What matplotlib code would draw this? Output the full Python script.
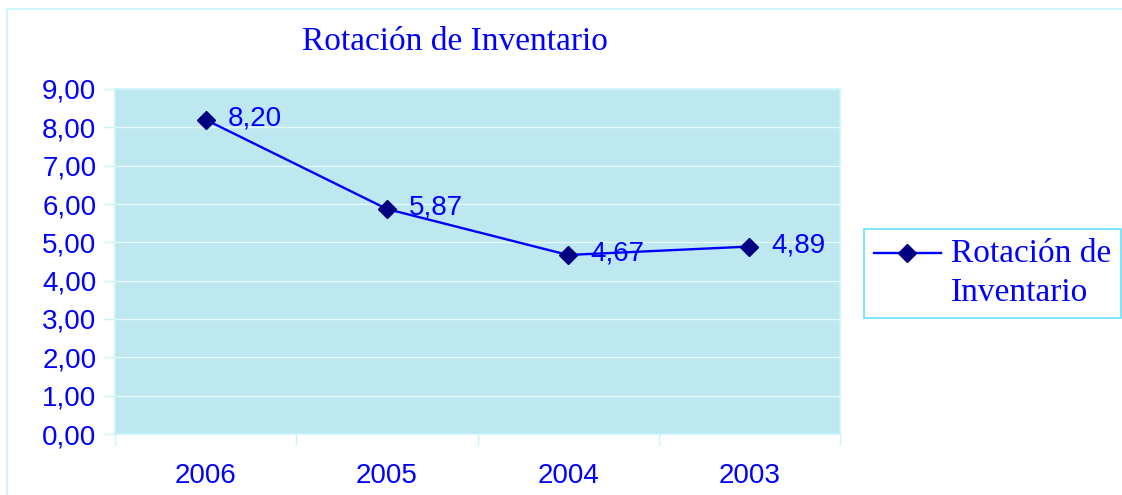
import matplotlib
matplotlib.use("Agg")
import matplotlib.pyplot as plt
from matplotlib.patches import Rectangle
from matplotlib.legend_handler import HandlerLine2D
from matplotlib.transforms import Affine2D

years = ["2006", "2005", "2004", "2003"]
rotacion = [8.20, 5.87, 4.67, 4.89]
y_ticks = [0, 1, 2, 3, 4, 5, 6, 7, 8, 9]
title = "Rotación de Inventario"
series_label = "Rotación de\nInventario"

W, H = 1122, 495
fig = plt.figure(figsize=(W / 100, H / 100), dpi=100)
fig.patch.set_facecolor("white")

# outer chart border (right/bottom edges fall outside the image)
fig.patches.append(Rectangle((7 / W, -0.05), 1.1, 1.05 - 9 / H, transform=fig.transFigure,
                             fill=False, edgecolor="#c8f4fc", linewidth=1.2))

ax = fig.add_axes([115 / W, 1 - 434 / H, (840 - 115) / W, (434 - 89) / H])
ax.set_facecolor("#bee8ef")

x = list(range(len(years)))
ax.plot(x, rotacion, color="#0000ff", linewidth=1.7, marker="D", markersize=9,
        markerfacecolor="#000080", markeredgecolor="#000080", label=series_label, zorder=3)

for xi, v in zip(x, rotacion):
    ax.annotate(f"{v:.2f}".replace(".", ","), (xi, v), xytext=(16, 1), textcoords="offset points",
                ha="left", va="center", fontsize=20, color="#0000ff", family="Liberation Sans", zorder=4)

ax.set_xlim(-0.5, len(years) - 0.5)
ax.set_ylim(0, 9)
ax.set_yticks(y_ticks)
ax.set_yticklabels([f"{v:.2f}".replace(".", ",") for v in y_ticks])
ax.set_xticks(x)
ax.set_xticklabels(years)
ax.set_xticks([i - 0.5 for i in range(len(years) + 1)], minor=True)
ax.tick_params(axis="x", which="major", length=0, pad=21, labelsize=20, labelcolor="#0000ff")
ax.tick_params(axis="x", which="minor", length=8, color="#c8f4fc", width=1)
ax.tick_params(axis="y", length=8, color="#c8f4fc", width=1, pad=5.5, labelsize=20, labelcolor="#0000ff")
for lab in ax.get_xticklabels() + ax.get_yticklabels():
    lab.set_family("Liberation Sans")

ax.grid(axis="y", color="#e4fafd", linewidth=1)
ax.set_axisbelow(True)
for s in ax.spines.values():
    s.set_color("#c8f4fc")
    s.set_linewidth(1.2)

fig.text(455 / W, 1 - 42 / H, title, ha="center", va="center", fontsize=24,
         color="#0000ff", family="Liberation Serif")


class HandlerTop(HandlerLine2D):
    def create_artists(self, legend, orig_handle, xdescent, ydescent, width, height, fontsize, trans):
        trans = Affine2D().translate(0, 15) + trans
        return super().create_artists(legend, orig_handle, xdescent, ydescent, width, height, fontsize, trans)


leg = fig.legend(handles=ax.get_lines(), labels=[series_label], loc="upper left",
                 bbox_to_anchor=(864 / W, 1 - 229 / H), frameon=True, fancybox=False,
                 prop={"family": "Liberation Serif", "size": 24}, labelcolor="#0000ff",
                 handlelength=2.0, handletextpad=0.3, borderpad=0.3, borderaxespad=0,
                 handler_map={matplotlib.lines.Line2D: HandlerTop()})
for t in leg.get_texts():
    t.set_linespacing(1.35)
leg.get_frame().set_edgecolor("#40d8f8")
leg.get_frame().set_linewidth(1.2)

fig.savefig("out.png", dpi=100, facecolor="white")
